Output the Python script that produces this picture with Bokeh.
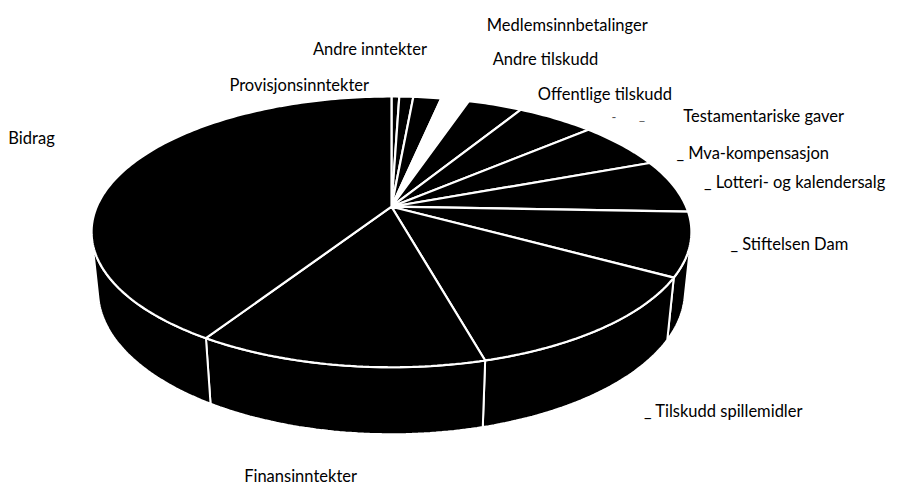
import math
from bokeh.plotting import figure
from bokeh.models import Range1d
from bokeh.core.properties import value
from bokeh.embed import file_html
from bokeh.resources import INLINE

# ---- data (share of income, %, clockwise from 12 o'clock) ----
categories = ["Provisjonsinntekter", "Andre inntekter", "Medlemsinnbetalinger",
              "Andre tilskudd", "Offentlige tilskudd", "Testamentariske gaver",
              "Mva-kompensasjon", "Lotteri- og kalendersalg", "Stiftelsen Dam",
              "Tilskudd spillemidler", "Finansinntekter", "Bidrag"]
shares = [0.5, 0.9, 1.8, 1.8, 3.5, 5.0, 5.7, 6.4, 7.6, 12.6, 13.1, 41.1]
label_texts = ["Provisjonsinntekter", "Andre inntekter", "Medlemsinnbetalinger",
               "Andre tilskudd", "Offentlige tilskudd", "Testamentariske gaver",
               "_ Mva-kompensasjon", "_ Lotteri- og kalendersalg", "_ Stiftelsen Dam",
               "_ Tilskudd spillemidler", "Finansinntekter", "Bidrag"]

# ---- layout / style ----
W, HGT = 893, 487          # canvas size in pixels
VW, VH = 909, 503          # drawing coordinate space
slice_colors = ["black"] * len(shares)
slice_colors[3] = "white"  # rendered blank in the original
label_pos = [(233, 87), (318, 50), (495, 25), (501, 60), (547, 97), (695, 119),
             (688, 157), (716, 187), (743, 251), (655, 424), (248, 491), (8, 142)]

CX, CY = 398.0, 213.0
F = 1443.0
DIST = 4.81
SIN_E = 0.45
COS_E = math.sqrt(1 - SIN_E ** 2)
H = 0.229


def proj(theta_deg, r, z):
    t = math.radians(theta_deg)
    X = r * math.sin(t)
    Y = r * math.cos(t)
    depth = DIST + Y * COS_E - z * SIN_E
    v = Y * SIN_E + z * COS_E
    return CX + F * X / depth, CY - F * v / depth


def arc(a, b, z):
    n = max(2, int(abs(b - a)) + 2)
    pts = [proj(a + (b - a) * i / (n - 1), 1.0, z) for i in range(n)]
    return [p[0] for p in pts], [p[1] for p in pts]


total = sum(shares)
bounds = [0.0]
for s in shares:
    bounds.append(bounds[-1] + 360.0 * s / total)

# visible front wall range
lim = math.degrees(math.acos(-1.0 / (DIST * COS_E)))
vis_a, vis_b = lim, 360 - lim

wall_xs, wall_ys, wall_c = [], [], []
top_xs, top_ys, top_c = [], [], []
for i in range(len(shares)):
    a, b = bounds[i], bounds[i + 1]
    wa, wb = max(a, vis_a), min(b, vis_b)
    if wb > wa:
        tx, ty = arc(wa, wb, 0.0)
        bx, by = arc(wa, wb, -H)
        wall_xs.append(tx + bx[::-1])
        wall_ys.append(ty + by[::-1])
        wall_c.append("black")
    ax, ay = arc(a, b, 0.0)
    top_xs.append([CX] + ax)
    top_ys.append([CY] + ay)
    top_c.append(slice_colors[i])

p = figure(width=W, height=HGT, output_backend="svg", toolbar_location=None,
           x_range=Range1d(0, VW), y_range=Range1d(VH, 0), min_border=0)
p.axis.visible = False
p.grid.visible = False
p.outline_line_color = None
p.background_fill_color = "white"

p.patches(wall_xs, wall_ys, fill_color=wall_c, line_color="white", line_width=2)
p.patches(top_xs, top_ys, fill_color=top_c, line_color="white", line_width=2.2)

p.text(x=[q[0] for q in label_pos], y=[q[1] for q in label_pos], text=label_texts,
       text_font=value("Lato"), text_font_size="16.5px", text_color="black",
       text_baseline="middle", text_align="left")
p.text(x=[622, 650], y=[120, 118], text=["-", "_"], text_font=value("Lato"),
       text_font_size="13px", text_color="#555555", text_baseline="middle")

open("out.html", "w").write(file_html(p, INLINE))
